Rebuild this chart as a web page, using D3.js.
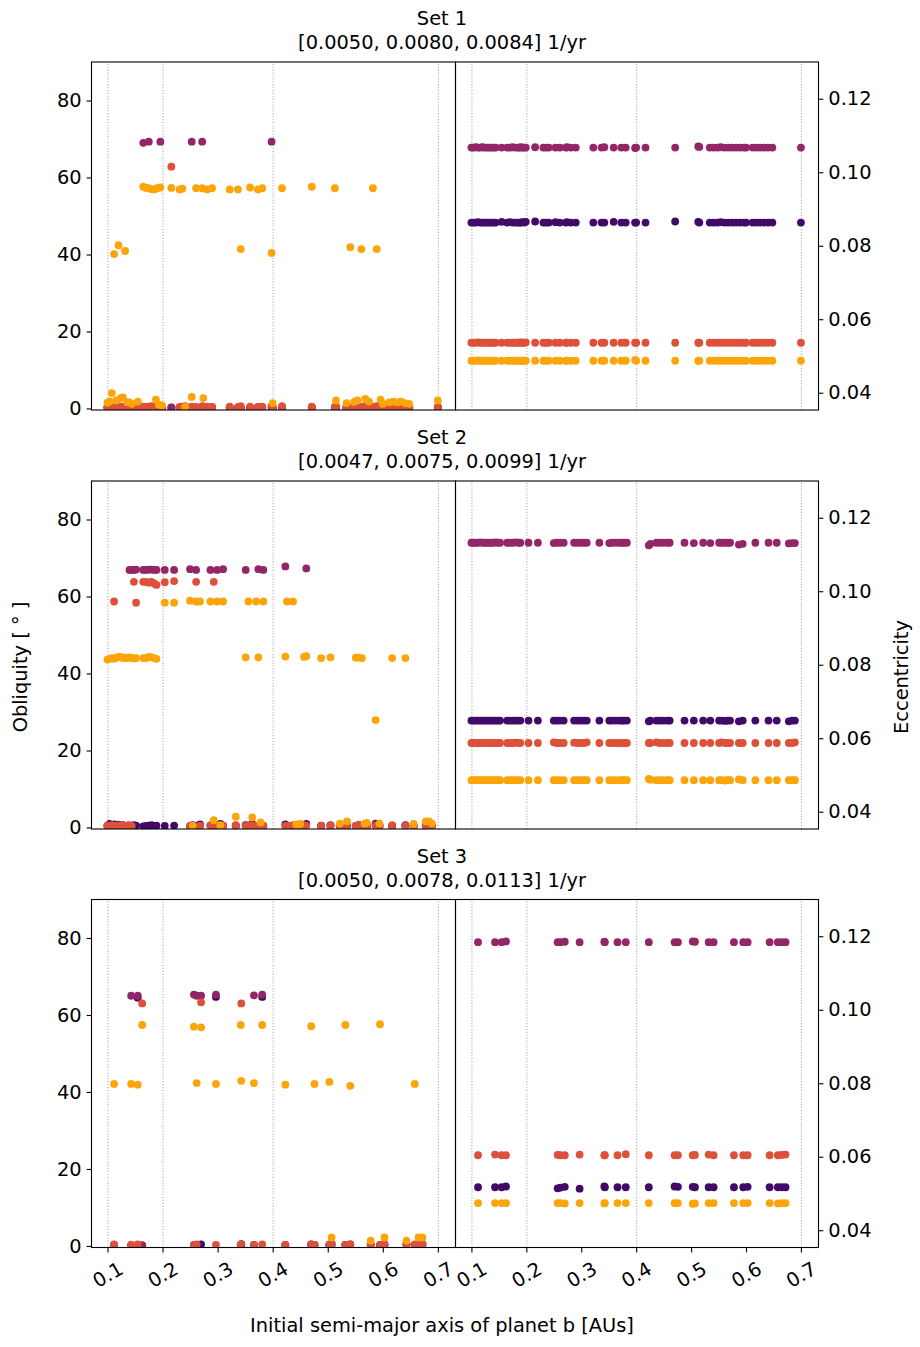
<!DOCTYPE html>
<html><head><meta charset="utf-8">
<script src="https://cdn.jsdelivr.net/npm/d3@7"></script>
<style>body{margin:0;background:#fff} text{font-family:"DejaVu Sans",sans-serif;fill:#000}</style>
</head><body><svg id="c" width="920" height="1347" xmlns="http://www.w3.org/2000/svg"></svg>
<script>
// ---------------- DATA ----------------
const planetColors = ["#420a68", "#932667", "#dd513a", "#fca50a"];
const setTitles = ["Set 1", "Set 2", "Set 3"];
const setRates = ["[0.0050, 0.0080, 0.0084] 1/yr", "[0.0047, 0.0075, 0.0099] 1/yr", "[0.0050, 0.0078, 0.0113] 1/yr"];
const xTicks = [0.1, 0.2, 0.3, 0.4, 0.5, 0.6, 0.7];
const gridA = [0.1, 0.2, 0.4, 0.7];
const oblTicks = [0, 20, 40, 60, 80];
const eccTicks = [0.04, 0.06, 0.08, 0.10, 0.12];

// Set 1
const s1_a = [0.100,0.104,0.108,0.112,0.116,0.120,0.124,0.128,0.132,0.136,
 0.140,0.144,0.155,0.165,0.170,0.175,0.180,0.185,0.188,0.190,
 0.193,0.196,0.199,0.216,0.231,0.236,0.241,0.253,0.261,0.272,
 0.274,0.281,0.290,0.322,0.337,0.342,0.359,0.373,0.381,0.398,
 0.400,0.417,0.471,0.513,0.515,0.534,0.541,0.548,0.554,0.561,
 0.568,0.575,0.582,0.589,0.596,0.600,0.612,0.619,0.626,0.633,
 0.640,0.648,0.700];
const s1_obl_p1 = [0.2,0.1,0.3,0.2,0.2,0.1,0.3,0.2,0.2,0.3,
 0.1,0.2,0.2,0.3,0.2,0.1,0.2,0.3,0.2,0.2,
 0.1,0.2,0.3,0.2,0.2,0.1,0.2,0.3,0.2,0.2,
 0.1,0.2,0.3,0.2,0.2,0.1,0.2,0.3,0.2,0.2,
 0.1,0.2,0.3,0.2,0.2,0.1,0.2,0.3,0.2,0.2,
 0.1,0.2,0.3,0.2,0.2,0.1,0.2,0.3,0.2,0.2,
 0.1,0.2,0.3];
const s1_obl_p2 = [0.3,0.2,0.3,0.2,0.3,0.2,0.3,0.3,0.2,0.3,
 0.2,0.3,0.3,69.0,0.3,69.3,0.2,0.3,0.3,0.2,
 0.3,69.3,0.2,0.3,0.2,0.3,0.3,69.3,0.2,69.3,
 0.3,0.2,0.3,0.3,0.2,0.3,0.2,0.3,0.3,69.3,
 0.2,0.3,0.2,0.3,0.3,0.2,0.3,0.3,0.2,0.3,
 0.3,0.2,0.3,0.2,0.3,0.3,0.2,0.3,0.2,0.3,
 0.3,0.2,0.3];
const s1_obl_p3 = [0.5,0.4,0.6,0.5,0.4,0.6,0.5,0.5,0.4,0.6,
 0.5,0.4,0.6,0.5,0.4,0.5,0.6,0.4,0.5,0.5,
 0.6,0.4,0.5,62.8,0.4,0.5,0.6,0.5,0.4,0.6,
 0.5,0.5,0.4,0.5,0.4,0.6,0.5,0.4,0.5,0.6,
 0.5,0.6,0.5,0.5,0.6,0.5,0.4,0.6,0.5,0.5,
 0.6,0.4,0.5,0.6,0.5,0.4,0.5,0.6,0.5,0.4,
 0.5,0.6,0.5];
const s1_obl_p4 = [1.5,1.8,4.0,40.1,2.1,42.4,2.7,2.9,40.9,1.6,
 1.6,1.2,1.8,57.6,57.3,57.2,57.0,56.9,2.3,57.2,
 1.0,57.4,0.8,57.3,56.9,57.1,0.4,3.0,57.2,57.2,
 2.7,56.9,57.2,56.9,56.9,41.4,57.4,56.9,57.2,40.4,
 1.4,57.2,57.6,57.2,2.1,1.4,41.9,1.7,2.1,41.4,
 2.5,1.8,57.2,41.4,2.3,1.2,1.6,1.8,1.6,1.8,
 1.4,1.2,2.1];
const s1_ecc_p1 = [0.0863,0.0863,0.0863,0.0864,0.0863,0.0863,0.0863,0.0863,0.0863,0.0863,
 0.0863,0.0863,0.0865,0.0863,0.0864,0.0863,0.0863,0.0863,0.0863,0.0863,
 0.0864,0.0863,0.0865,0.0866,0.0863,0.0863,0.0863,0.0864,0.0863,0.0863,
 0.0864,0.0863,0.0863,0.0863,0.0863,0.0863,0.0865,0.0863,0.0863,0.0863,
 0.0863,0.0863,0.0866,0.0865,0.0863,0.0863,0.0863,0.0863,0.0864,0.0863,
 0.0863,0.0863,0.0863,0.0863,0.0863,0.0863,0.0863,0.0863,0.0863,0.0863,
 0.0863,0.0863,0.0863];
const s1_ecc_p2 = [0.1067,0.1067,0.1068,0.1067,0.1067,0.1068,0.1067,0.1067,0.1067,0.1067,
 0.1067,0.1067,0.1067,0.1067,0.1067,0.1068,0.1067,0.1067,0.1067,0.1068,
 0.1067,0.1067,0.1067,0.1068,0.1067,0.1067,0.1067,0.1067,0.1067,0.1067,
 0.1068,0.1067,0.1067,0.1067,0.1067,0.1068,0.1067,0.1067,0.1067,0.1066,
 0.1067,0.1067,0.1067,0.1070,0.1069,0.1067,0.1067,0.1067,0.1068,0.1067,
 0.1067,0.1067,0.1067,0.1067,0.1067,0.1067,0.1067,0.1067,0.1067,0.1067,
 0.1067,0.1067,0.1067];
const s1_ecc_p3 = [0.0536,0.0536,0.0536,0.0537,0.0536,0.0536,0.0536,0.0536,0.0536,0.0536,
 0.0536,0.0536,0.0536,0.0536,0.0536,0.0536,0.0536,0.0536,0.0536,0.0537,
 0.0536,0.0536,0.0537,0.0536,0.0536,0.0536,0.0536,0.0536,0.0536,0.0536,
 0.0536,0.0536,0.0536,0.0536,0.0536,0.0536,0.0536,0.0536,0.0536,0.0536,
 0.0536,0.0536,0.0536,0.0536,0.0536,0.0536,0.0536,0.0536,0.0536,0.0536,
 0.0536,0.0536,0.0536,0.0536,0.0536,0.0536,0.0536,0.0536,0.0536,0.0536,
 0.0536,0.0536,0.0536];
const s1_ecc_p4 = [0.0487,0.0487,0.0487,0.0488,0.0487,0.0487,0.0487,0.0487,0.0487,0.0487,
 0.0487,0.0487,0.0487,0.0487,0.0487,0.0487,0.0487,0.0487,0.0487,0.0487,
 0.0487,0.0487,0.0487,0.0487,0.0487,0.0487,0.0487,0.0487,0.0487,0.0487,
 0.0487,0.0487,0.0487,0.0487,0.0487,0.0487,0.0487,0.0487,0.0487,0.0489,
 0.0487,0.0487,0.0487,0.0487,0.0487,0.0487,0.0487,0.0487,0.0487,0.0487,
 0.0487,0.0487,0.0487,0.0487,0.0487,0.0487,0.0487,0.0487,0.0487,0.0487,
 0.0487,0.0487,0.0487];

// Set 2
const s2_a = [0.100,0.104,0.108,0.112,0.116,0.120,0.124,0.128,0.132,0.136,
 0.140,0.144,0.148,0.152,0.165,0.170,0.175,0.180,0.185,0.189,
 0.204,0.221,0.250,0.255,0.261,0.268,0.287,0.293,0.299,0.305,
 0.310,0.333,0.351,0.356,0.363,0.370,0.374,0.378,0.383,0.423,
 0.426,0.437,0.443,0.450,0.457,0.461,0.488,0.505,0.522,0.535,
 0.551,0.556,0.562,0.567,0.571,0.587,0.594,0.617,0.641,0.656,
 0.678,0.684,0.689];
const s2_obl_p1 = [0.5,0.9,0.6,0.8,0.4,0.7,0.5,0.6,0.4,0.5,
 0.3,0.4,0.6,0.5,0.3,0.4,0.5,0.6,0.4,0.5,
 0.4,0.5,0.3,0.6,0.4,0.8,0.5,0.4,0.6,0.9,
 0.5,0.4,0.6,0.5,0.9,0.4,0.5,0.6,0.4,0.8,
 0.5,0.4,0.6,0.5,0.4,0.9,0.5,0.4,0.6,0.5,
 0.4,0.6,0.5,0.8,0.4,1.0,0.5,0.4,0.6,0.5,
 0.4,0.5,0.6];
const s2_obl_p2 = [0.3,0.5,0.3,0.4,0.3,0.3,0.5,0.3,0.4,0.3,
 66.9,66.9,66.9,67.0,66.9,66.9,67.0,67.0,66.9,66.9,
 66.9,66.9,67.1,0.3,66.9,0.4,66.9,0.3,66.9,0.3,
 67.1,0.5,66.9,0.3,0.4,0.3,67.1,0.3,66.9,67.8,
 0.4,0.3,0.5,0.3,0.3,67.3,0.3,0.6,0.3,0.4,
 0.3,0.5,0.3,0.4,0.3,0.8,0.3,0.3,0.3,0.3,
 0.5,0.3,0.3];
const s2_obl_p3 = [0.5,0.4,0.6,58.7,0.5,0.4,0.6,0.5,0.4,0.5,
 0.6,0.4,63.8,58.4,63.8,63.8,63.6,63.8,63.4,63.0,
 63.7,64.0,0.5,0.4,63.8,0.5,0.6,63.8,0.5,0.4,
 0.5,0.6,0.4,0.5,0.6,0.4,0.5,0.6,0.5,0.4,
 0.5,0.6,0.5,0.4,0.6,0.5,0.4,0.5,0.6,0.5,
 0.4,0.6,0.5,0.5,0.6,0.4,0.5,0.6,0.5,0.4,
 0.5,0.6,0.5];
const s2_obl_p4 = [43.6,43.8,44.0,43.8,44.1,44.3,44.3,44.0,44.1,44.0,
 44.2,44.0,43.9,44.0,44.0,44.0,44.3,44.2,44.0,43.8,
 58.4,58.4,58.9,0.5,58.7,58.7,58.7,1.9,58.7,0.6,
 58.7,2.8,44.2,58.7,2.6,58.7,44.2,1.3,58.7,44.4,
 58.7,58.7,0.8,0.9,44.3,44.5,44.0,44.2,1.0,1.6,
 44.1,44.1,44.0,1.0,1.2,27.9,1.0,44.0,44.0,0.9,
 1.6,1.6,1.0];
const s2_ecc_p1 = [0.0648,0.0648,0.0648,0.0648,0.0648,0.0648,0.0648,0.0648,0.0648,0.0648,
 0.0648,0.0648,0.0648,0.0648,0.0648,0.0648,0.0648,0.0648,0.0648,0.0648,
 0.0648,0.0648,0.0648,0.0648,0.0648,0.0648,0.0648,0.0648,0.0648,0.0648,
 0.0648,0.0648,0.0648,0.0648,0.0648,0.0648,0.0648,0.0648,0.0648,0.0646,
 0.0648,0.0648,0.0648,0.0648,0.0648,0.0648,0.0648,0.0648,0.0648,0.0648,
 0.0648,0.0648,0.0647,0.0648,0.0648,0.0646,0.0648,0.0648,0.0648,0.0648,
 0.0646,0.0648,0.0648];
const s2_ecc_p2 = [0.1132,0.1132,0.1132,0.1132,0.1133,0.1132,0.1132,0.1132,0.1132,0.1132,
 0.1132,0.1133,0.1132,0.1132,0.1132,0.1132,0.1132,0.1133,0.1132,0.1132,
 0.1132,0.1132,0.1131,0.1132,0.1132,0.1132,0.1132,0.1132,0.1132,0.1132,
 0.1132,0.1132,0.1131,0.1132,0.1132,0.1132,0.1132,0.1132,0.1132,0.1125,
 0.1129,0.1132,0.1132,0.1132,0.1132,0.1132,0.1132,0.1131,0.1132,0.1131,
 0.1132,0.1132,0.1132,0.1132,0.1132,0.1127,0.1129,0.1132,0.1132,0.1132,
 0.1130,0.1131,0.1131];
const s2_ecc_p3 = [0.0587,0.0587,0.0587,0.0587,0.0587,0.0587,0.0587,0.0587,0.0587,0.0587,
 0.0587,0.0587,0.0587,0.0587,0.0587,0.0587,0.0587,0.0588,0.0587,0.0587,
 0.0587,0.0587,0.0589,0.0587,0.0587,0.0587,0.0588,0.0587,0.0587,0.0587,
 0.0589,0.0587,0.0587,0.0587,0.0587,0.0587,0.0587,0.0587,0.0587,0.0587,
 0.0587,0.0589,0.0587,0.0587,0.0587,0.0587,0.0587,0.0587,0.0587,0.0587,
 0.0587,0.0589,0.0587,0.0587,0.0587,0.0587,0.0587,0.0587,0.0587,0.0587,
 0.0587,0.0587,0.0589];
const s2_ecc_p4 = [0.0486,0.0486,0.0486,0.0486,0.0486,0.0486,0.0486,0.0486,0.0486,0.0486,
 0.0486,0.0486,0.0486,0.0486,0.0486,0.0486,0.0486,0.0486,0.0486,0.0486,
 0.0486,0.0486,0.0486,0.0486,0.0486,0.0486,0.0486,0.0486,0.0486,0.0486,
 0.0486,0.0486,0.0486,0.0486,0.0486,0.0486,0.0486,0.0486,0.0486,0.0489,
 0.0487,0.0486,0.0486,0.0486,0.0486,0.0486,0.0486,0.0486,0.0486,0.0486,
 0.0486,0.0486,0.0485,0.0486,0.0486,0.0488,0.0486,0.0486,0.0486,0.0486,
 0.0486,0.0486,0.0486];

// Set 3
const s3_a = [0.112,0.143,0.155,0.163,0.257,0.262,0.270,0.297,0.342,0.343,
 0.366,0.381,0.423,0.470,0.476,0.503,0.507,0.532,0.541,0.578,
 0.595,0.603,0.643,0.658,0.665,0.672];
const s3_obl_p1 = [0.2,0.2,64.5,0.1,0.3,0.2,0.4,64.7,0.2,0.5,
 0.3,64.7,0.2,0.4,0.3,0.2,0.6,0.3,0.4,0.3,
 0.2,0.3,0.4,0.3,0.2,0.5];
const s3_obl_p2 = [0.3,65.0,65.0,0.2,65.3,65.0,65.0,65.3,0.3,0.2,
 65.1,65.3,0.3,0.3,0.2,0.3,0.2,0.3,0.3,0.3,
 0.3,0.2,0.3,0.3,0.6,0.3];
const s3_obl_p3 = [0.4,0.3,0.4,63.0,0.3,0.4,63.3,0.3,0.4,63.0,
 0.3,0.4,0.3,0.4,0.3,0.4,0.5,0.3,0.4,0.5,
 0.3,0.6,0.5,0.4,0.6,0.5];
const s3_obl_p4 = [42.1,42.1,41.9,57.4,57.0,42.3,56.8,42.1,57.4,42.9,
 42.3,57.4,41.9,57.1,42.1,42.6,2.2,57.4,41.6,1.4,
 57.6,2.2,1.4,42.1,2.2,2.2];
const s3_ecc_p1 = [0.0517,0.0517,0.0517,0.0519,0.0514,0.0516,0.0518,0.0513,0.0519,0.0517,
 0.0517,0.0517,0.0517,0.0519,0.0518,0.0518,0.0517,0.0517,0.0517,0.0517,
 0.0517,0.0518,0.0517,0.0517,0.0517,0.0517];
const s3_ecc_p2 = [0.1184,0.1184,0.1184,0.1186,0.1184,0.1184,0.1185,0.1184,0.1185,0.1184,
 0.1184,0.1184,0.1184,0.1184,0.1184,0.1186,0.1185,0.1184,0.1184,0.1184,
 0.1184,0.1184,0.1184,0.1184,0.1184,0.1184];
const s3_ecc_p3 = [0.0604,0.0606,0.0604,0.0604,0.0605,0.0604,0.0604,0.0606,0.0604,0.0604,
 0.0604,0.0607,0.0604,0.0604,0.0604,0.0604,0.0605,0.0606,0.0604,0.0604,
 0.0604,0.0604,0.0604,0.0604,0.0605,0.0606];
const s3_ecc_p4 = [0.0474,0.0474,0.0474,0.0474,0.0474,0.0474,0.0473,0.0474,0.0473,0.0474,
 0.0474,0.0474,0.0474,0.0474,0.0474,0.0472,0.0473,0.0474,0.0474,0.0474,
 0.0474,0.0474,0.0474,0.0473,0.0474,0.0474];

// ---------------- LAYOUT ----------------
const sets = [
  {a: s1_a, obl: [s1_obl_p1, s1_obl_p2, s1_obl_p3, s1_obl_p4], ecc: [s1_ecc_p1, s1_ecc_p2, s1_ecc_p3, s1_ecc_p4]},
  {a: s2_a, obl: [s2_obl_p1, s2_obl_p2, s2_obl_p3, s2_obl_p4], ecc: [s2_ecc_p1, s2_ecc_p2, s2_ecc_p3, s2_ecc_p4]},
  {a: s3_a, obl: [s3_obl_p1, s3_obl_p2, s3_obl_p3, s3_obl_p4], ecc: [s3_ecc_p1, s3_ecc_p2, s3_ecc_p3, s3_ecc_p4]}
];
const FS = 19.4;
const rowTops = [62, 481, 899.5], rowH = 348;
const x0 = 91.5, xm = 455.5, x1 = 818.5;
const xDom = [0.071, 0.732];
const oblDom = [-0.4, 90], eccDom = [0.0353, 0.1300];
const R = 3.9, TL = 4.9, PAD = 4.9;
const titleX = 442;

const svg = d3.select("#c");
svg.append("rect").attr("width", 920).attr("height", 1347).attr("fill", "#fff");
const defs = svg.append("defs");

sets.forEach((s, i) => {
  const top = rowTops[i], bot = top + rowH;
  const xL = d3.scaleLinear().domain(xDom).range([x0, xm]);
  const xR = d3.scaleLinear().domain(xDom).range([xm, x1]);
  const yL = d3.scaleLinear().domain(oblDom).range([bot, top]);
  const yR = d3.scaleLinear().domain(eccDom).range([bot, top]);

  defs.append("clipPath").attr("id", "cl" + i).append("rect")
    .attr("x", x0).attr("y", top).attr("width", xm - x0).attr("height", rowH);
  defs.append("clipPath").attr("id", "cr" + i).append("rect")
    .attr("x", xm).attr("y", top).attr("width", x1 - xm).attr("height", rowH);

  [xL, xR].forEach(xs => {
    const g = svg.append("g").attr("transform", `translate(0,${bot})`)
      .call(d3.axisBottom(xs).tickValues(gridA).tickSize(-rowH).tickFormat(""));
    g.select(".domain").remove();
    g.selectAll("line").attr("stroke", "#a8a8a8").attr("stroke-width", 1.1)
      .attr("stroke-dasharray", "1.1,1.8");
  });

  const gL = svg.append("g").attr("clip-path", `url(#cl${i})`);
  const gR = svg.append("g").attr("clip-path", `url(#cr${i})`);
  [0, 1, 2, 3].forEach(k => {
    gL.append("g").selectAll("circle")
      .data(s.a.map((a, j) => [a, s.obl[k][j]]))
      .join("circle")
      .attr("cx", d => xL(d[0])).attr("cy", d => yL(d[1])).attr("r", R)
      .attr("fill", planetColors[k]);
    gR.append("g").selectAll("circle")
      .data(s.a.map((a, j) => [a, s.ecc[k][j]]))
      .join("circle")
      .attr("cx", d => xR(d[0])).attr("cy", d => yR(d[1])).attr("r", R)
      .attr("fill", planetColors[k]);
  });

  const ay = svg.append("g").attr("transform", `translate(${x0},0)`)
    .call(d3.axisLeft(yL).tickValues(oblTicks).tickSize(TL).tickPadding(PAD));
  ay.select(".domain").remove();
  ay.selectAll("line").attr("stroke", "#000").attr("stroke-width", 1.1);
  ay.selectAll("text").attr("font-size", FS).attr("font-family", "DejaVu Sans").attr("fill", "#000");

  const ayr = svg.append("g").attr("transform", `translate(${x1},0)`)
    .call(d3.axisRight(yR).tickValues(eccTicks).tickFormat(d3.format(".2f")).tickSize(TL).tickPadding(PAD));
  ayr.select(".domain").remove();
  ayr.selectAll("line").attr("stroke", "#000").attr("stroke-width", 1.1);
  ayr.selectAll("text").attr("font-size", FS).attr("font-family", "DejaVu Sans").attr("fill", "#000");

  if (i === sets.length - 1) {
    [xL, xR].forEach(xs => {
      const ax = svg.append("g").attr("transform", `translate(0,${bot})`)
        .call(d3.axisBottom(xs).tickValues(xTicks).tickFormat(d3.format(".1f")).tickSize(TL).tickPadding(PAD));
      ax.select(".domain").remove();
      ax.selectAll("line").attr("stroke", "#000").attr("stroke-width", 1.1);
      ax.selectAll("text").attr("font-size", FS).attr("font-family", "DejaVu Sans").attr("fill", "#000")
        .attr("y", null).attr("dy", null)
        .attr("text-anchor", "middle").attr("dominant-baseline", "central")
        .attr("transform", `translate(0,${TL + PAD + 17.5}) rotate(-30)`);
    });
  }

  [[x0, xm], [xm, x1]].forEach(([a, b]) => {
    svg.append("rect").attr("x", a).attr("y", top).attr("width", b - a).attr("height", rowH)
      .attr("fill", "none").attr("stroke", "#000").attr("stroke-width", 1.1);
  });

  svg.append("text").attr("x", titleX).attr("y", top - 37).attr("text-anchor", "middle")
    .attr("font-size", FS).text(setTitles[i]);
  svg.append("text").attr("x", titleX).attr("y", top - 13).attr("text-anchor", "middle")
    .attr("font-size", FS).text(setRates[i]);
});

svg.append("text").attr("transform", "translate(20,667) rotate(-90)")
  .attr("text-anchor", "middle").attr("dominant-baseline", "central").attr("font-size", FS)
  .text("Obliquity [ ° ]");
svg.append("text").attr("transform", "translate(901,677) rotate(-90)")
  .attr("text-anchor", "middle").attr("dominant-baseline", "central").attr("font-size", FS)
  .text("Eccentricity");
svg.append("text").attr("x", titleX).attr("y", 1332).attr("text-anchor", "middle")
  .attr("font-size", FS).text("Initial semi-major axis of planet b [AUs]");
</script>
</body></html>
